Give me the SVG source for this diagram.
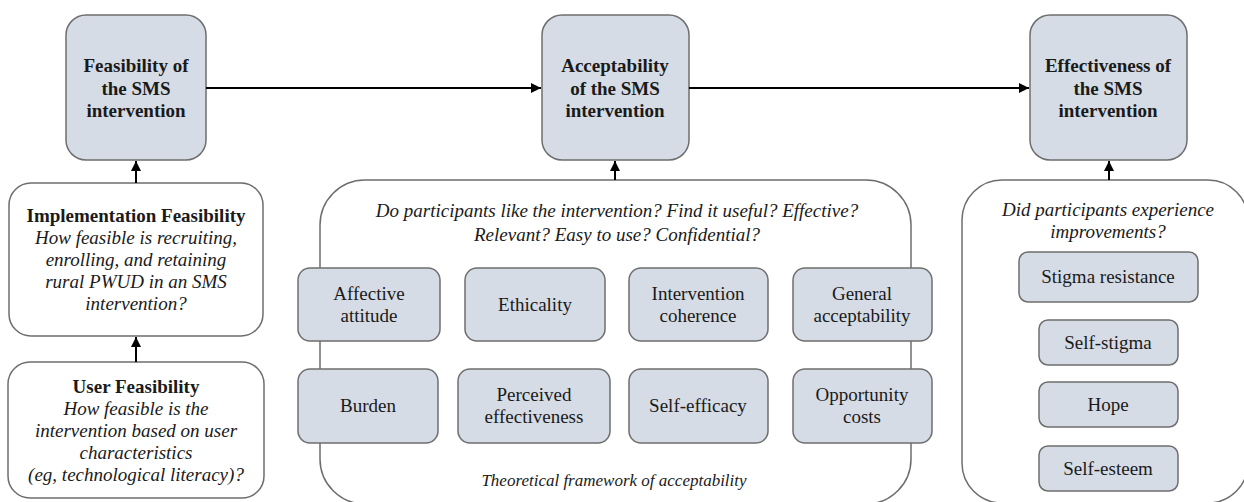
<svg xmlns="http://www.w3.org/2000/svg" width="1244" height="502" viewBox="0 0 1244 502">
<style>
.main{fill:#d6dce5;stroke:#6e6e6e;stroke-width:1.5}
.frame{fill:#ffffff;stroke:#6e6e6e;stroke-width:1.5}
.sub{fill:#d6dce5;stroke:#6e6e6e;stroke-width:1.5}
text{font-family:"Liberation Serif","Times New Roman",serif;fill:#1a1a1a;text-anchor:middle}
.b{font-weight:bold;font-size:19px}
.bh{font-weight:bold;font-size:19px}
.i{font-style:italic;font-size:19px}
.t{font-size:19px}
.s{font-style:italic;font-size:17px}
.conn{stroke:#000;stroke-width:2;fill:none}
</style>
<defs>
<marker id="ah" viewBox="0 0 10 10" refX="10" refY="5" markerWidth="5" markerHeight="5" orient="auto" markerUnits="strokeWidth">
<path d="M0,0 L10,5 L0,10 z" fill="#000"/>
</marker>
</defs>
<rect width="1244" height="502" fill="#fff"/>

<g id="feasibility">
<rect class="main" x="66" y="15" width="140" height="145" rx="20"/>
<text class="b" x="136" y="72">Feasibility of</text>
<text class="b" x="136" y="95">the SMS</text>
<text class="b" x="136" y="117">intervention</text>
</g>
<g id="acceptability">
<rect class="main" x="542" y="15" width="147" height="145" rx="20"/>
<text class="b" x="615" y="72">Acceptability</text>
<text class="b" x="615" y="95">of the SMS</text>
<text class="b" x="615" y="117">intervention</text>
</g>
<g id="effectiveness">
<rect class="main" x="1030" y="15" width="157" height="145" rx="20"/>
<text class="b" x="1108" y="72">Effectiveness of</text>
<text class="b" x="1108" y="95">the SMS</text>
<text class="b" x="1108" y="117">intervention</text>
</g>

<g id="implementation">
<rect class="frame" x="9" y="183" width="254" height="153" rx="22"/>
<text class="bh" x="136" y="222">Implementation Feasibility</text>
<text class="i" x="136" y="244">How feasible is recruiting,</text>
<text class="i" x="136" y="266">enrolling, and retaining</text>
<text class="i" x="136" y="288">rural PWUD in an SMS</text>
<text class="i" x="136" y="310">intervention?</text>
</g>
<g id="user">
<rect class="frame" x="8" y="362" width="256" height="136" rx="22"/>
<text class="bh" x="136" y="393">User Feasibility</text>
<text class="i" x="136" y="415">How feasible is the</text>
<text class="i" x="136" y="437">intervention based on user</text>
<text class="i" x="136" y="459">characteristics</text>
<text class="i" x="136" y="481">(eg, technological literacy)?</text>
</g>

<g id="acceptability-frame">
<rect class="frame" x="320" y="180" width="591" height="324" rx="45"/>
<text class="i" x="617" y="217">Do participants like the intervention? Find it useful? Effective?</text>
<text class="i" x="617" y="241">Relevant? Easy to use? Confidential?</text>
<text class="s" x="614" y="486">Theoretical framework of acceptability</text>
</g>
<g id="affective">
<rect class="sub" x="298" y="268" width="142" height="73" rx="12"/>
<text class="t" x="369" y="300">Affective</text>
<text class="t" x="369" y="322">attitude</text>
</g>
<g id="ethicality">
<rect class="sub" x="465" y="268" width="140" height="73" rx="12"/>
<text class="t" x="535" y="311">Ethicality</text>
</g>
<g id="coherence">
<rect class="sub" x="629" y="268" width="139" height="73" rx="12"/>
<text class="t" x="698" y="300">Intervention</text>
<text class="t" x="698" y="322">coherence</text>
</g>
<g id="general">
<rect class="sub" x="793" y="268" width="139" height="73" rx="12"/>
<text class="t" x="862" y="300">General</text>
<text class="t" x="862" y="322">acceptability</text>
</g>
<g id="burden">
<rect class="sub" x="298" y="369" width="140" height="74" rx="12"/>
<text class="t" x="368" y="412">Burden</text>
</g>
<g id="perceived">
<rect class="sub" x="458" y="369" width="152" height="74" rx="12"/>
<text class="t" x="534" y="401">Perceived</text>
<text class="t" x="534" y="423">effectiveness</text>
</g>
<g id="selfefficacy">
<rect class="sub" x="629" y="369" width="139" height="74" rx="12"/>
<text class="t" x="698" y="412">Self-efficacy</text>
</g>
<g id="opportunity">
<rect class="sub" x="793" y="369" width="139" height="74" rx="12"/>
<text class="t" x="862" y="401">Opportunity</text>
<text class="t" x="862" y="423">costs</text>
</g>

<g id="effectiveness-frame">
<rect class="frame" x="962" y="180" width="286" height="323" rx="40"/>
<text class="i" x="1108" y="216">Did participants experience</text>
<text class="i" x="1108" y="238">improvements?</text>
</g>
<g id="stigma-resistance">
<rect class="sub" x="1019" y="252" width="179" height="50" rx="9"/>
<text class="t" x="1108" y="283">Stigma resistance</text>
</g>
<g id="self-stigma">
<rect class="sub" x="1039" y="320" width="139" height="45" rx="9"/>
<text class="t" x="1108" y="349">Self-stigma</text>
</g>
<g id="hope">
<rect class="sub" x="1039" y="382" width="139" height="45" rx="9"/>
<text class="t" x="1108" y="411">Hope</text>
</g>
<g id="self-esteem">
<rect class="sub" x="1039" y="446" width="139" height="45" rx="9"/>
<text class="t" x="1108" y="475">Self-esteem</text>
</g>

<g id="connectors">
<line class="conn" x1="206" y1="88" x2="541" y2="88" marker-end="url(#ah)"/>
<line class="conn" x1="689" y1="88" x2="1029" y2="88" marker-end="url(#ah)"/>
<line class="conn" x1="136" y1="183" x2="136" y2="161" marker-end="url(#ah)"/>
<line class="conn" x1="136" y1="362" x2="136" y2="337" marker-end="url(#ah)"/>
<line class="conn" x1="615" y1="180" x2="615" y2="161" marker-end="url(#ah)"/>
<line class="conn" x1="1109" y1="180" x2="1109" y2="161" marker-end="url(#ah)"/>
</g>
</svg>
